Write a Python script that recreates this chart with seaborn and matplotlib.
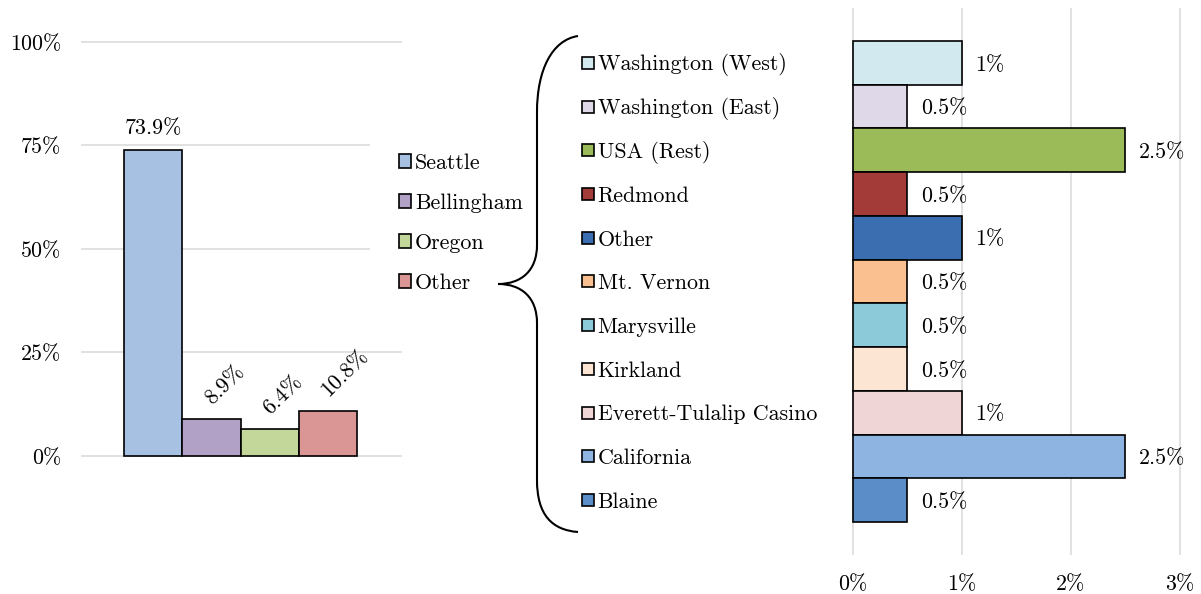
import matplotlib
matplotlib.use("Agg")
import matplotlib.pyplot as plt
import matplotlib.transforms as mtransforms
from matplotlib.patches import Patch, PathPatch
from matplotlib.path import Path
import seaborn as sns

# left chart: share of visitors by origin
main_regions = ["Seattle", "Bellingham", "Oregon", "Other"]
main_share = [73.9, 8.9, 6.4, 10.8]
main_colors = ["#a7c1e3", "#b1a1c7", "#c4d79b", "#d99694"]

# right chart: breakdown of "Other"
other_regions = ["Washington (West)", "Washington (East)", "USA (Rest)", "Redmond",
                 "Other", "Mt. Vernon", "Marysville", "Kirkland",
                 "Everett-Tulalip Casino", "California", "Blaine"]
other_share = [1, 0.5, 2.5, 0.5, 1, 0.5, 0.5, 0.5, 1, 2.5, 0.5]
other_colors = ["#d2e9ef", "#dfd8e8", "#9bbb59", "#a33b38", "#3b6eb0", "#fac08f",
                "#8dcad9", "#fde5d3", "#f0d5d7", "#8eb4e2", "#5b8ec9"]

left_ticks = [0, 25, 50, 75, 100]
right_ticks = [0, 1, 2, 3]

sns.set_theme(style="white")
plt.rcParams["font.family"] = ["cmr10", "DejaVu Serif"]
plt.rcParams["axes.unicode_minus"] = False
plt.rcParams["axes.formatter.use_mathtext"] = True
plt.rcParams["text.color"] = "black"
plt.rcParams["xtick.color"] = "black"
plt.rcParams["ytick.color"] = "black"
FS = 15.8
GRID = "#d9d9d9"

W, H = 1201, 594
fig = plt.figure(figsize=(W / 100, H / 100), dpi=100)

# ---- left bar chart
ax1 = fig.add_axes([0.0671, 0.2184, 0.2676, 0.7249])
sns.barplot(x=main_regions, y=main_share, hue=main_regions, palette=main_colors,
            order=main_regions, hue_order=main_regions, width=1.0, legend=False,
            edgecolor="black", linewidth=1.2, saturation=1, ax=ax1)
ax1.set_xlim(-1.244, 4.269)
ax1.set_ylim(-2, 102)
ax1.set_yticks(left_ticks)
ax1.set_yticklabels([f"{t}%" for t in left_ticks], fontsize=FS)
ax1.set_xticks([])
ax1.tick_params(axis="y", length=0, pad=14)
ax1.yaxis.grid(True, color=GRID, linewidth=1.1)
ax1.set_axisbelow(True)
sns.despine(ax=ax1, left=True, bottom=True)
ax1.set_xlabel("")
ax1.set_ylabel("")

for i, v in enumerate(main_share):
    if v > 20:
        ax1.annotate(f"{v}%", xy=(i, v), xytext=(0, 15.8), textcoords="offset points",
                     ha="center", va="center", fontsize=FS)
    else:
        ax1.annotate(f"{v}%", xy=(i, v), xytext=(0.5, 9.9), textcoords="offset points",
                     ha="left", va="baseline", rotation=45, rotation_mode="anchor",
                     fontsize=FS)

handles = [Patch(facecolor=c, edgecolor="black", linewidth=1.2) for c in main_colors]
leg = ax1.legend(handles, main_regions, loc="center left",
                 bbox_to_anchor=(370 / W, 1 - 223 / H), bbox_transform=fig.transFigure,
                 frameon=True, framealpha=1, facecolor="white", edgecolor="none",
                 fontsize=FS, handlelength=0.56, handleheight=0.56, handletextpad=0.2,
                 labelspacing=0.93, borderpad=1.3, borderaxespad=0)

# ---- right horizontal bar chart
ax2 = fig.add_axes([0.7008, 0.0657, 0.2904, 0.9209])
sns.barplot(y=other_regions, x=other_share, hue=other_regions, palette=other_colors,
            order=other_regions, hue_order=other_regions, orient="h", width=1.0,
            legend=False, edgecolor="black", linewidth=1.2, saturation=1, ax=ax2)
ax2.set_xlim(-0.1, 3.1)
ax2.set_ylim(11.255, -1.255)
ax2.set_xticks(right_ticks)
ax2.set_xticklabels([f"{t}%" for t in right_ticks], fontsize=FS)
ax2.set_yticks([])
ax2.tick_params(axis="x", length=0, pad=14)
ax2.xaxis.grid(True, color=GRID, linewidth=1.1)
ax2.set_axisbelow(True)
sns.despine(ax=ax2, left=True, bottom=True)
ax2.set_xlabel("")
ax2.set_ylabel("")

for i, v in enumerate(other_share):
    ax2.annotate(f"{v:g}%", xy=(v, i), xytext=(10, -1.5), textcoords="offset points",
                 ha="left", va="center", fontsize=FS)

# category labels with colour keys, aligned to the bars
lab_tr = mtransforms.blended_transform_factory(ax2.transAxes, ax2.transData)
for i, (name, c) in enumerate(zip(other_regions, other_colors)):
    ax2.annotate(name, xy=(-0.70, i), xycoords=lab_tr, xytext=(0, -1.5),
                 textcoords="offset points", ha="left", va="center", fontsize=FS,
                 annotation_clip=False)
    ax2.plot([-0.727], [i], transform=lab_tr, marker="s", markersize=8.4,
             markerfacecolor=c, markeredgecolor="black", markeredgewidth=1.2,
             linestyle="none", clip_on=False)

# curly brace linking "Other" to the breakdown
pts = [(578, 36), (552, 40), (537, 70), (537, 112),
       (537, 245),
       (537, 270), (522, 284), (498, 284),
       (522, 284), (537, 298), (537, 323),
       (537, 480),
       (537, 515), (552, 530), (578, 532)]
codes = [Path.MOVETO, Path.CURVE4, Path.CURVE4, Path.CURVE4,
         Path.LINETO,
         Path.CURVE4, Path.CURVE4, Path.CURVE4,
         Path.CURVE4, Path.CURVE4, Path.CURVE4,
         Path.LINETO,
         Path.CURVE4, Path.CURVE4, Path.CURVE4]
brace = Path([(x / W, 1 - y / H) for x, y in pts], codes)
fig.patches.append(PathPatch(brace, transform=fig.transFigure, facecolor="none",
                             edgecolor="black", linewidth=1.5))

fig.savefig("out.png", dpi=100)
